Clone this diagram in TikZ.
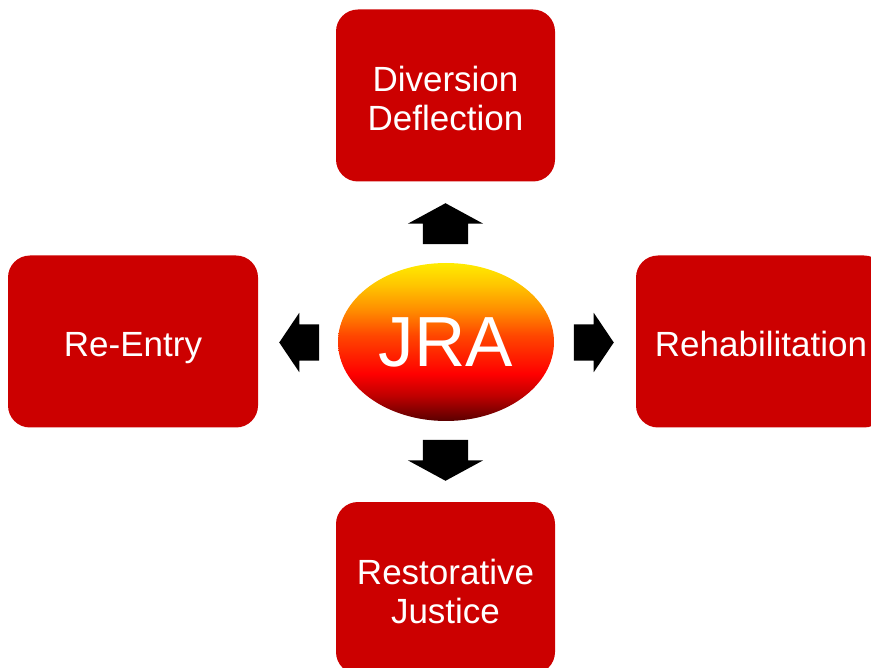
\documentclass[tikz,border=0pt]{standalone}
\usepackage{fontspec}
\setmainfont{Liberation Sans}
\usetikzlibrary{positioning,shapes.geometric,shapes.arrows}

\definecolor{boxred}{HTML}{CC0000}
\definecolor{jradark}{HTML}{5A0000}
\definecolor{jrared}{HTML}{FF0000}
\definecolor{jraorange}{HTML}{FF8C00}
\definecolor{jrayellow}{HTML}{FFEB00}

\pgfdeclareverticalshading{jrashade}{100bp}{%
  color(0bp)=(jradark); color(25bp)=(jradark); color(33bp)=(jrared!75!black);
  color(40bp)=(jrared); color(52bp)=(jrared!50!jraorange); color(60bp)=(jraorange);
  color(68bp)=(jraorange!40!jrayellow); color(75bp)=(jrayellow); color(100bp)=(jrayellow)}

\tikzset{
  stage/.style={draw=none,fill=boxred,rounded corners=22pt,text=white,
    minimum height=172pt,align=center,inner sep=0pt,
    font=\fontsize{35}{39}\selectfont,text height=31pt,text depth=0pt},
  twoline/.style={text height=70pt},
  blockv/.style={single arrow,fill=black,anchor=tip,inner xsep=0pt,inner ysep=22.5pt,minimum height=41pt,
    minimum width=75pt,single arrow head extend=15pt,single arrow tip angle=123},
  blockh/.style={single arrow,fill=black,anchor=tip,inner xsep=0pt,inner ysep=18pt,minimum height=40pt,
    minimum width=59pt,single arrow head extend=11.5pt,single arrow tip angle=112}
}

\begin{document}
\begin{tikzpicture}[x=1pt,y=-1pt]

  \useasboundingbox (0,0) rectangle (871,668);
  \clip (0,0) rectangle (871,668);

  % centre
  \node [ellipse,shading=jrashade,minimum width=216pt,minimum height=158pt,inner sep=0pt,
         text=white,font=\fontsize{71}{80}\selectfont] at(446,342) (jra) {JRA};

  % the four stages
  \node [stage,twoline,minimum width=219pt] at(445.5,95.5) (diversion) {Diversion\\Deflection};
  \node [stage,twoline,minimum width=219pt] at(445.5,588) (restorative) {Restorative\\Justice};
  \node [stage,minimum width=250pt] at(133,341.5) (reentry) {Re-Entry};
  \node [stage,minimum width=250pt] at(761,341.5) (rehab) {Rehabilitation};

  % block arrows, placed by their tips
  \node [blockv,rotate=90] at(445.5,203) (arr_up) {};
  \node [blockv,rotate=-90] at(445.5,481) (arr_down) {};
  \node [blockh,rotate=180] at(279,342.5) (arr_left) {};
  \node [blockh] at(614,342.5) (arr_right) {};
\end{tikzpicture}
\end{document}
